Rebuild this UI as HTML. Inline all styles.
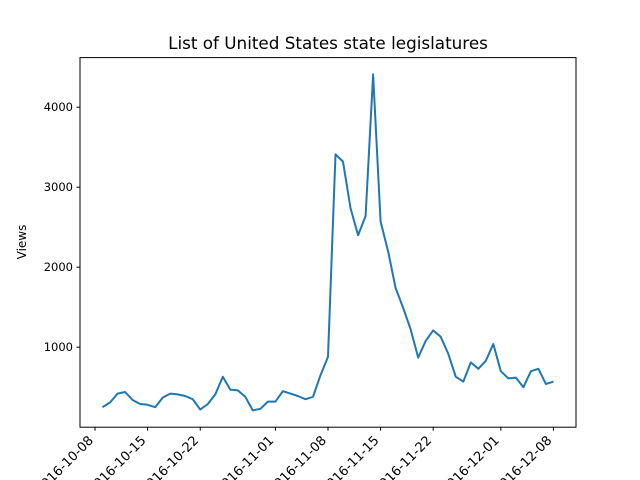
<!DOCTYPE html>
<html><head><meta charset="utf-8"><style>
body{margin:0;background:#fff;}
svg{display:block;font-family:"DejaVu Sans","Liberation Sans",sans-serif;}
</style></head><body>
<svg id="chart" width="640" height="480">
<rect x="0" y="0" width="640" height="480" fill="#fff"/>
<text x="328" y="49" font-size="16.8" text-anchor="middle">List of United States state legislatures</text>
<text x="0" y="0" font-size="12" text-anchor="middle" transform="translate(26,242) rotate(-90)">Views</text>
<g id="yticks"></g><g id="xticks"></g>
<polyline id="line" fill="none" stroke="#1f77b4" stroke-width="2" stroke-linejoin="round"/>
<rect x="80" y="57.6" width="496" height="369.6" fill="none" stroke="#000" stroke-width="1"/>
</svg>
<script>
const startDate = "2016-10-09";
const views = [250,310,420,440,340,290,280,250,370,420,410,390,350,220,290,410,630,470,460,380,210,230,320,320,450,420,390,350,380,650,880,3410,3320,2740,2400,2640,4410,2570,2200,1740,1490,1220,870,1080,1210,1130,920,630,570,810,730,830,1040,700,610,620,500,700,730,540,570];
const yTicks = [1000,2000,3000,4000];
const xTickLabels = ["2016-10-08","2016-10-15","2016-10-22","2016-11-01","2016-11-08","2016-11-15","2016-11-22","2016-12-01","2016-12-08"];
const NS="http://www.w3.org/2000/svg";
const L=80,R=576,T=57.6,B=427.2;
const DAY=86400000;
const t0=Date.parse("2016-10-08T00:00:00Z");
const start=Date.parse(startDate+"T00:00:00Z");
const dMin=(start-t0)/DAY - 3.0, dMax=(start-t0)/DAY+views.length-1+3.0;
const xs=d=>L+(d-dMin)/(dMax-dMin)*(R-L);
const vmax=Math.max(...views),vmin=Math.min(...views);
const yMin=vmin-(vmax-vmin)*0.05,yMax=vmax+(vmax-vmin)*0.05;
const ys=v=>B-(v-yMin)/(yMax-yMin)*(B-T);
document.getElementById('line').setAttribute('points',views.map((v,i)=>xs((start-t0)/DAY+i).toFixed(1)+','+ys(v).toFixed(1)).join(' '));
const yg=document.getElementById('yticks');
yTicks.forEach(v=>{const y=ys(v);
const l=document.createElementNS(NS,'line');l.setAttribute('x1',L-3.5);l.setAttribute('x2',L);l.setAttribute('y1',y);l.setAttribute('y2',y);l.setAttribute('stroke','#000');


yg.appendChild(l);
const t=document.createElementNS(NS,'text');t.setAttribute('x',L-7);t.setAttribute('y',y+4);t.setAttribute('font-size','11.5');t.setAttribute('text-anchor','end');t.textContent=v;


yg.appendChild(t);});
const xg=document.getElementById('xticks');
xTickLabels.forEach(s=>{const d=(Date.parse(s+"T00:00:00Z")-t0)/DAY;const x=xs(d);
const l=document.createElementNS(NS,'line');l.setAttribute('x1',x);l.setAttribute('x2',x);l.setAttribute('y1',B);l.setAttribute('y2',B+3.5);l.setAttribute('stroke','#000');


xg.appendChild(l);
const t=document.createElementNS(NS,'text');t.setAttribute('font-size','13');t.setAttribute('text-anchor','end');
t.setAttribute('transform','translate('+(x-1)+','+(B+14)+') rotate(-45)');t.textContent=s;


xg.appendChild(t);});
</script>
</body></html>
